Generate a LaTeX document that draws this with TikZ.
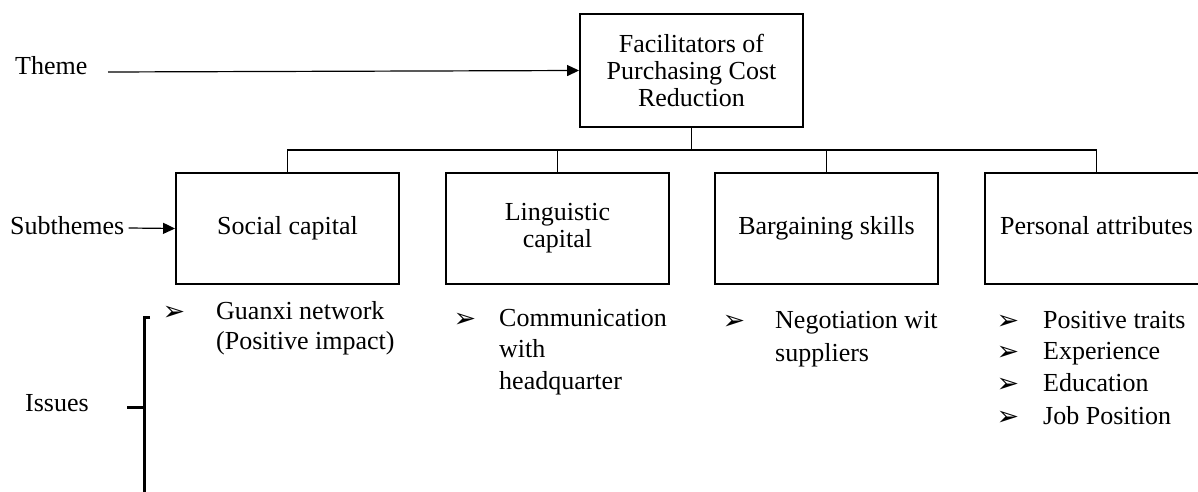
\documentclass[tikz,border=0pt]{standalone}
\usepackage{fontspec}
\setmainfont{Liberation Serif}
\newfontfamily\dejavu{DejaVu Sans}
\usetikzlibrary{arrows.meta}
\newcommand\bigfs{\fontsize{26}{27}\selectfont}
\begin{document}
\begin{tikzpicture}[x=1pt,y=-1pt,
  box/.style={draw, line width=1.9pt, minimum width=223pt, minimum height=111pt, align=center, font=\bigfs, inner sep=0pt},
  one/.style={text height=18pt, text depth=6pt},
  conn/.style={line width=1.9pt},
  lbl/.style={inner sep=0pt, text height=18pt, text depth=6pt, font=\bigfs, anchor=west},
  bul/.style={inner sep=0pt, font=\dejavu\fontsize{27}{27}\selectfont, anchor=center},
  arr/.style={line width=1.2pt, -{Triangle[length=12pt,width=11pt]}},
  brk/.style={line width=3pt}
]
\useasboundingbox (0,0) rectangle (1198,492);
\clip (0,0) rectangle (1198,492);

% theme box
\node[box, minimum height=113pt] (top) at (691.5,70.5) {Facilitators of\\Purchasing Cost\\Reduction};

% subtheme boxes
\node[box, one] (s1) at (287.5,228.5) {Social capital};
\node[box] (s2) at (557.5,228.5) {Linguistic\\capital};
\node[box, one] (s3) at (826.5,228.5) {Bargaining skills};
\node[box, one] (s4) at (1096.5,228.5) {Personal attributes};

% tree connectors
\coordinate (busy) at (0,150);
\draw[conn] (s1.north) -- (s1.north |- busy) -- (s4.north |- busy) -- (s4.north);
\draw[conn] (s2.north) -- (s2.north |- busy);
\draw[conn] (s3.north) -- (s3.north |- busy);
\draw[conn] (top.south) -- (top.south |- busy);

% left labels
\node[lbl] (theme) at (15,69) {Theme};
\coordinate (themestart) at (108,72);
\draw[arr] (themestart) -- (top.west);

\node[lbl] (sub) at (10,228) {Subthemes};
\draw[arr] ([xshift=4pt]sub.east) -- (s1.west);

\node[lbl] (iss) at (25,405) {Issues};
\coordinate (bh) at (150,317);
\coordinate (bt) at (144,317);
\coordinate (bb) at (144,496);
\coordinate (tk) at (127,407);
\draw[brk] (bh) -- (bt) -- (bb);
\draw[brk] (tk) -- (tk -| bt);

% issues: social capital
\node[bul] (b1) at (174,313) {➢};
\node[lbl] (t1a) at (216,313) {Guanxi network};
\node[lbl] (t1b) at (216,343) {(Positive impact)};

% issues: linguistic capital
\node[bul] (b2) at (465,320) {➢};
\node[lbl] (t2a) at (499,320) {Communication};
\node[lbl] (t2b) at (499,351.5) {with};
\node[lbl] (t2c) at (499,383) {headquarter};

% issues: bargaining skills
\node[bul] (b3) at (734,322) {➢};
\node[lbl] (t3a) at (775,322) {Negotiation wit};
\node[lbl] (t3b) at (775,355) {suppliers};

% issues: personal attributes
\node[bul] (b4a) at (1008,322) {➢};
\node[lbl] (t4a) at (1043,322) {Positive traits};
\node[bul] (b4b) at (1008,353.5) {➢};
\node[lbl] (t4b) at (1043,353.5) {Experience};
\node[bul] (b4c) at (1008,385.5) {➢};
\node[lbl] (t4c) at (1043,385.5) {Education};
\node[bul] (b4d) at (1008,418) {➢};
\node[lbl] (t4d) at (1043,418) {Job Position};
\end{tikzpicture}
\end{document}
